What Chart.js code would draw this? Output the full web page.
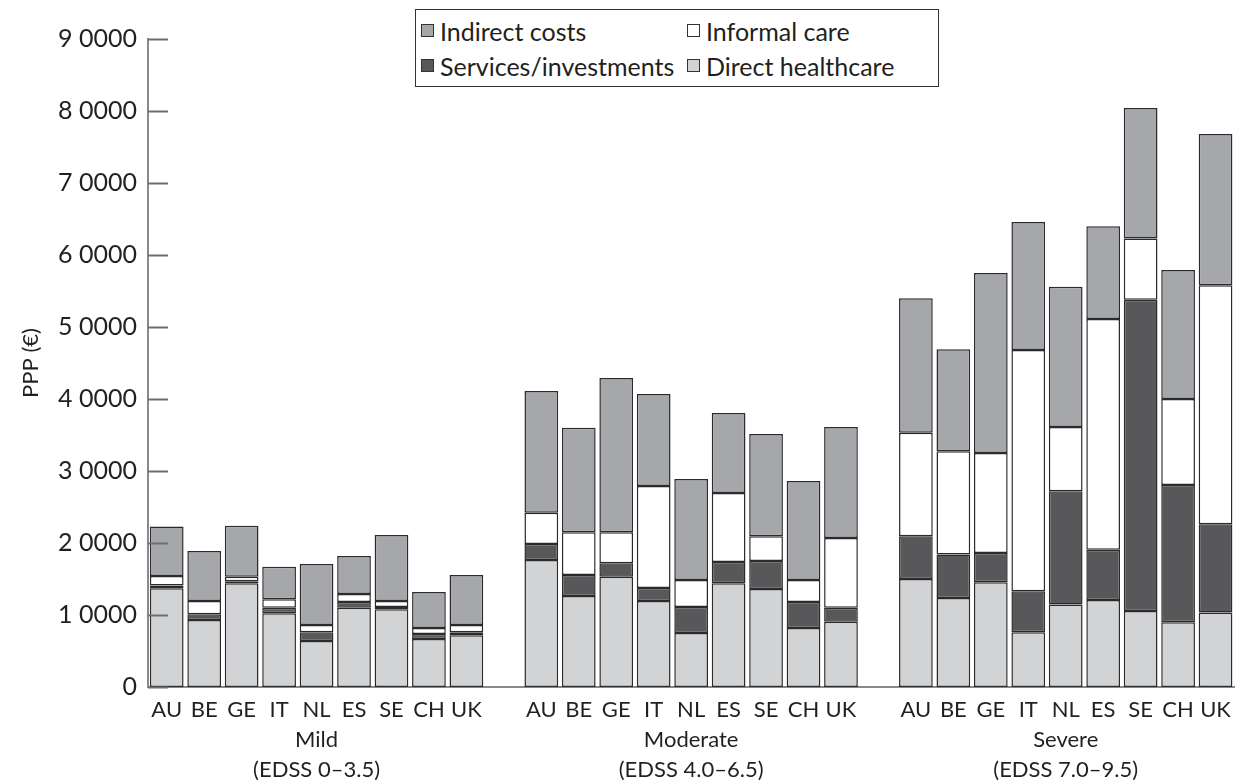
<!DOCTYPE html>
<html>
<head>
<meta charset="utf-8">
<script src="https://cdn.jsdelivr.net/npm/chart.js@4.4.0/dist/chart.umd.min.js"></script>
<style>
  body { margin: 0; background: #fff; overflow: hidden; }
  #wrap { position: relative; width: 1239px; height: 781px; }
  #legend {
    position: absolute; left: 415px; top: 9px; width: 524px; height: 78px;
    border: 1.5px solid #333; box-sizing: border-box; background: #fff;
    display: grid; grid-template-columns: 266px 250px; align-content: center;
    padding-left: 5px; row-gap: 1px;
    font-family: Lato, "Noto Sans", sans-serif; font-size: 25px; color: #231f20;
  }
  .item { display: flex; align-items: center; height: 34px; white-space: nowrap; }
  .box { width: 11px; height: 11px; border: 1.5px solid #333; margin-right: 6px; flex: none; }
</style>
</head>
<body>
<div id="wrap">
  <canvas id="costChart" width="1239" height="781"></canvas>
  <div id="legend"></div>
</div>
<script>
// countries per severity group
const countries = ["AU", "BE", "GE", "IT", "NL", "ES", "SE", "CH", "UK"];
const groupNames = ["Mild", "Moderate", "Severe"];
const groupRanges = ["(EDSS 0\u20133.5)", "(EDSS 4.0\u20136.5)", "(EDSS 7.0\u20139.5)"];
const yTickLabels = ["0", "1 0000", "2 0000", "3 0000", "4 0000", "5 0000", "6 0000", "7 0000", "8 0000", "9 0000"];

// values, order: mild x9, moderate x9, severe x9
const directHealthcare = [
  13700, 9300, 14400, 10250, 6400, 11000, 10800, 6650, 7200,
  17650, 12650, 15300, 11950, 7500, 14400, 13600, 8200, 9050,
  15000, 12350, 14550, 7600, 11450, 12100, 10550, 9000, 10350
];
const servicesInvestments = [
  400, 800, 300, 750, 1200, 800, 300, 700, 400,
  2200, 2900, 1900, 1800, 3600, 2950, 3900, 3600, 1950,
  5950, 6050, 4050, 5700, 15750, 6950, 43250, 19050, 12250
];
const informalCare = [
  1300, 1850, 600, 1200, 1000, 1100, 850, 850, 1000,
  4350, 5950, 4300, 14150, 3750, 9600, 3450, 3050, 9700,
  14350, 14350, 13900, 33500, 8900, 32050, 8500, 11950, 33200
];
const indirectCosts = [
  6900, 6950, 7100, 4500, 8500, 5300, 9150, 5000, 6950,
  16900, 14500, 21400, 12800, 14050, 11100, 14200, 13750, 15400,
  18700, 14150, 25000, 17800, 19500, 12900, 18100, 17900, 21000
];

// one empty slot between groups
function withGaps(arr) {
  let out = [];
  for (let g = 0; g < 3; g++) {
    out = out.concat(arr.slice(g * 9, g * 9 + 9));
    if (g < 2) out.push(null);
  }
  return out;
}

let labels = [];
for (let g = 0; g < 3; g++) {
  countries.forEach((c) => {
    // group name goes under the middle country (NL)
    labels.push(c === "NL" ? [c, groupNames[g], groupRanges[g]] : c);
  });
  if (g < 2) labels.push("");
}

const FONT = "Lato, 'Noto Sans', sans-serif";
const TEXT = "#231f20";
const AXIS = "#8a8a8c";

// short ticks pointing into the plot, like the original
const innerTicks = {
  id: "innerTicks",
  afterDatasetsDraw(chart) {
    const { ctx, chartArea, scales } = chart;
    const y = scales.y;
    ctx.save();
    ctx.strokeStyle = "#6d6e70";
    ctx.lineWidth = 2;
    y.ticks.forEach((t) => {
      const py = Math.round(y.getPixelForValue(t.value)) + 0.5;
      ctx.beginPath();
      ctx.moveTo(chartArea.left, py);
      ctx.lineTo(chartArea.left + 20, py);
      ctx.stroke();
    });
    ctx.restore();
  },
};

function makeSet(label, data, color) {
  return {
    label: label,
    data: withGaps(data),
    backgroundColor: color,
    borderColor: "#2b2b2b",
    borderWidth: 1.5,
    borderSkipped: false,
    barPercentage: 0.9,
    categoryPercentage: 1.0,
  };
}

const ctx = document.getElementById("costChart").getContext("2d");
const costChart = new Chart(ctx, {
  type: "bar",
  data: {
    labels: labels,
    datasets: [
      makeSet("Direct healthcare", directHealthcare, "#d2d3d5"),
      makeSet("Services/investments", servicesInvestments, "#58585a"),
      makeSet("Informal care", informalCare, "#ffffff"),
      makeSet("Indirect costs", indirectCosts, "#a6a7aa"),
    ],
  },
  options: {
    responsive: false,
    devicePixelRatio: 1,
    animation: false,
    layout: { padding: { top: 39, left: 18, right: 4, bottom: 0 } },
    plugins: {
      legend: { display: false },
      tooltip: { enabled: false },
    },
    scales: {
      x: {
        stacked: true,
        grid: { display: false, drawTicks: false },
        border: { display: true, color: AXIS, width: 2 },
        ticks: {
          autoSkip: false,
          maxRotation: 0,
          padding: 8,
          color: TEXT,
          font: { family: FONT, size: 22, lineHeight: 1.36 },
        },
        afterFit: (s) => { s.height = 94; },
      },
      y: {
        stacked: true,
        min: 0,
        max: 90000,
        grid: { display: false, drawTicks: false },
        border: { display: true, color: AXIS, width: 2 },
        ticks: {
          stepSize: 10000,
          padding: 11,
          color: TEXT,
          font: { family: FONT, size: 25 },
          callback: (v, i) => yTickLabels[i],
        },
        title: {
          display: true,
          text: "PPP (\u20ac)",
          color: TEXT,
          font: { family: FONT, size: 22 },
          padding: { top: 0, bottom: 0 },
        },
        afterFit: (s) => { s.width = 148 - 18; },
      },
    },
  },
  plugins: [innerTicks],
});

// two-column legend box, top row indirect / informal
const legendEl = document.getElementById("legend");
costChart.data.datasets.slice().reverse().forEach((ds) => {
  const item = document.createElement("div");
  item.className = "item";
  const box = document.createElement("span");
  box.className = "box";
  box.style.background = ds.backgroundColor;
  item.appendChild(box);
  item.appendChild(document.createTextNode(ds.label));
  legendEl.appendChild(item);
});
</script>
</body>
</html>
